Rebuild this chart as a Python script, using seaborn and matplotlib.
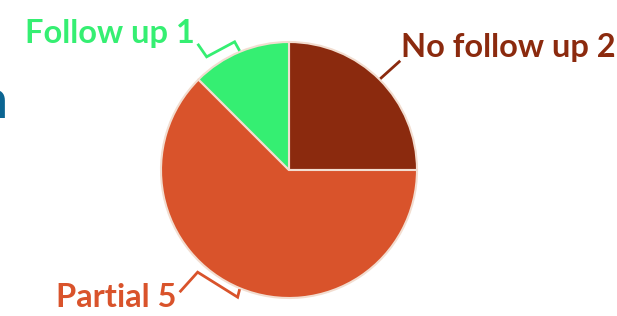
import numpy as np
import matplotlib
matplotlib.use("Agg")
import matplotlib.pyplot as plt
import seaborn as sns

# Chart data
labels = ["No follow up", "Partial", "Follow up"]
counts = [2, 5, 1]
colors = ["#8b2a0e", "#d9532b", "#35ef72"]

sns.set_style("white")
plt.rcParams["font.family"] = ["Lato", "DejaVu Sans"]

fig = plt.figure(figsize=(6.17, 3.16), dpi=100)
ax = fig.add_axes([0, 0, 1, 1])

cx, cy, r = 289, 146, 128
wedges, _ = ax.pie(counts, colors=colors, startangle=90, counterclock=False,
                   center=(cx, cy), radius=r, frame=True,
                   wedgeprops=dict(edgecolor="#f2ddd0", linewidth=1.5))
ax.set_xlim(0, 617)
ax.set_ylim(0, 316)
ax.set_aspect("equal")
ax.axis("off")

# clipped title fragment at left edge
fig.text(0.013, 0.625, "n", color="#0b6592", fontsize=38, fontweight="bold",
         ha="right", va="baseline")

# leader shapes (offsets from the slice edge) for each label
leaders = {
    "No follow up": [(0, 0), (20, 18)],
    "Partial": [(0, 0), (-2, -8), (-42, 17), (-60, -3)],
    "Follow up": [(0, 0), (-5, 9), (-33, -6), (-42, 7)],
}
text_off = {"No follow up": (1, 13), "Partial": (-3, -5), "Follow up": (-3, 10)}

for w, lab, n, col in zip(wedges, labels, counts, colors):
    mid = np.deg2rad((w.theta1 + w.theta2) / 2)
    x0, y0 = cx + (r + 1) * np.cos(mid), cy + (r + 1) * np.sin(mid)
    xs = [x0 + dx for dx, dy in leaders[lab]]
    ys = [y0 + dy for dx, dy in leaders[lab]]
    ax.plot(xs, ys, color=col, lw=2, solid_joinstyle="miter",
            solid_capstyle="butt")
    tx, ty = text_off[lab]
    ha = "left" if np.cos(mid) > 0 else "right"
    ax.text(xs[-1] + tx, ys[-1] + ty, f"{lab} {n}", color=col, fontsize=23.5,
            fontweight="bold", ha=ha, va="center")

fig.savefig("out.png", dpi=100)
